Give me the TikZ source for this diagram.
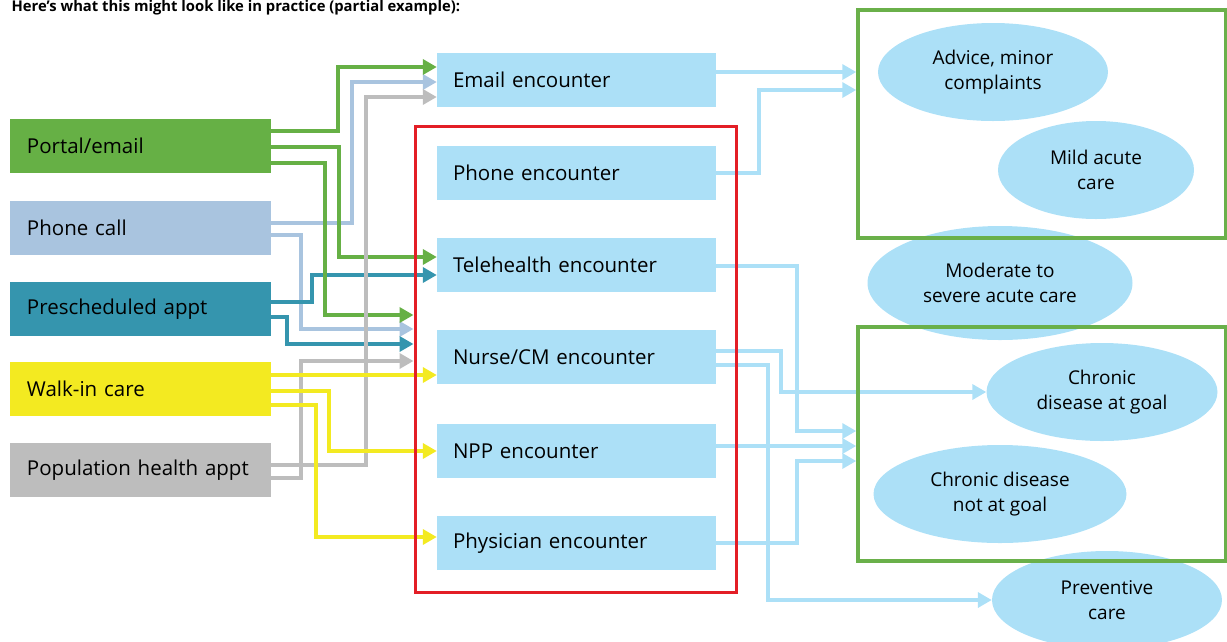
\documentclass[tikz,border=0pt]{standalone}
\usepackage{fontspec}
\setmainfont{Open Sans}
\usetikzlibrary{arrows.meta,shapes.geometric,backgrounds}

\definecolor{cgreen}{RGB}{102,176,69}
\definecolor{clblue}{RGB}{169,196,223}
\definecolor{cteal}{RGB}{53,149,174}
\definecolor{cyellow}{RGB}{243,234,33}
\definecolor{cgray}{RGB}{189,189,189}
\definecolor{cbox}{RGB}{172,224,247}
\definecolor{cred}{RGB}{227,30,38}
\definecolor{cframe}{RGB}{106,176,74}

\begin{document}
\begin{tikzpicture}[x=1pt,y=-1pt]
		\tikzstyle{source}=[rectangle,minimum height=54pt,inner xsep=17pt,text width=227pt,align=left,font=\fontsize{20.5}{24}\selectfont]
		\tikzstyle{encounter}=[rectangle,fill=cbox,minimum height=54pt,inner xsep=16pt,text width=247pt,align=left,font=\fontsize{20.5}{24}\selectfont]
		\tikzstyle{need}=[ellipse,fill=cbox,inner sep=0pt,align=center,font=\fontsize{19}{25}\selectfont]
		\tikzstyle{team}=[rectangle,draw=cred,line width=3pt]
		\tikzstyle{group}=[rectangle,draw=cframe,line width=3.5pt]
		\tikzstyle{feed}=[line width=4pt,-{Triangle[length=14pt,width=15pt]}]
		
		\useasboundingbox (0,0) rectangle (1227,641);
		
		\node[anchor=base west,font=\bfseries\fontsize{14.8}{18}\selectfont] (title) at (8,11) {Here’s what this might look like in practice (partial example):};
		
		% Sources
		\node[source,fill=cgreen] (portal) at (140.5,146) {Portal/email};
		\node[source,fill=clblue] (phone) at (140.5,228) {Phone call};
		\node[source,fill=cteal] (presched) at (140.5,309) {Prescheduled appt};
		\node[source,fill=cyellow] (walkin) at (140.5,389) {Walk-in care};
		\node[source,fill=cgray] (pop) at (140.5,470) {Population health appt};
		
		% Encounters
		\node[encounter] (email) at (576.5,80) {Email encounter};
		\node[encounter] (phoneenc) at (576.5,173) {Phone encounter};
		\node[encounter] (tele) at (576.5,265) {Telehealth encounter};
		\node[encounter] (nurse) at (576.5,357) {Nurse/CM encounter};
		\node[encounter] (npp) at (576.5,451) {NPP encounter};
		\node[encounter] (phys) at (576.5,543) {Physician encounter};
		\node[team,minimum width=321pt,minimum height=466pt] (careteam) at (575.5,359) {};
		
		% Needs
		\node[need,minimum width=230pt,minimum height=98pt] (advice) at (993,72) {Advice, minor\\complaints};
		\node[need,minimum width=196pt,minimum height=98pt] (mild) at (1096,170) {Mild acute\\care};
		\node[need,minimum width=265pt,minimum height=114pt] (moderate) at (1000,283) {Moderate to\\severe acute care};
		\node[need,minimum width=231pt,minimum height=98pt] (atgoal) at (1102,392) {Chronic\\disease at goal};
		\node[need,minimum width=253pt,minimum height=98pt] (notgoal) at (1000,494) {Chronic disease\\not at goal};
		\node[need,minimum width=230pt,minimum height=98pt] (prev) at (1107,600) {Preventive\\care};
		\node[group,minimum width=368pt,minimum height=228pt] (acutebox) at (1042,124) {};
		\node[group,minimum width=368pt,minimum height=234pt] (chronicbox) at (1042,444) {};
		
		\begin{scope}[on background layer]
		% Sources to encounters
		\draw [feed,clblue] (phone.east |- 0,223) -- (352,223) |- (email.west |- 0,82);
		\draw [feed,clblue] (phone.east |- 0,235) -- (301,235) |- (careteam.west |- 0,329);
		\draw [feed,cteal] (presched.east |- 0,302) -- (312,302) |- (tele.west |- 0,275);
		\draw [feed,cteal] (presched.east |- 0,317) -- (287,317) |- (careteam.west |- 0,344);
		\draw [feed,cgreen] (portal.east |- 0,131) -- (338,131) |- (email.west |- 0,67);
		\draw [feed,cgreen] (portal.east |- 0,147) -- (339,147) |- (tele.west |- 0,257);
		\draw [feed,cgreen] (portal.east |- 0,163) -- (325,163) |- (careteam.west |- 0,315);
		\draw [feed,cgray] (pop.east |- 0,465) -- (366,465) |- (email.west |- 0,97);
		\draw [feed,cgray] (pop.east |- 0,478) -- (301,478) |- (careteam.west |- 0,361);
		\draw [feed,cyellow] (walkin.east |- 0,375) -- (nurse.west |- 0,375);
		\draw [feed,cyellow] (walkin.east |- 0,391) -- (329,391) |- (npp.west |- 0,451);
		\draw [feed,cyellow] (walkin.east |- 0,405) -- (316,405) |- (phys.west |- 0,537);
		
		% Encounters to needs
		\draw [feed,cbox] (email.east |- 0,72) -- (acutebox.west |- 0,72);
		\draw [feed,cbox] (phoneenc.east |- 0,173) -- (759,173) |- (acutebox.west |- 0,90);
		\draw [feed,cbox] (tele.east |- 0,266) -- (797,266) |- (chronicbox.west |- 0,431);
		\draw [feed,cbox] (nurse.east |- 0,351) -- (781,351) |- (atgoal.west);
		\draw [feed,cbox] (nurse.east |- 0,365) -- (768,365) |- (prev.west);
		\draw [feed,cbox] (npp.east |- 0,446) -- (chronicbox.west |- 0,446);
		\draw [feed,cbox] (phys.east |- 0,543) -- (797,543) |- (chronicbox.west |- 0,461);
		\end{scope}
\end{tikzpicture}
\end{document}
